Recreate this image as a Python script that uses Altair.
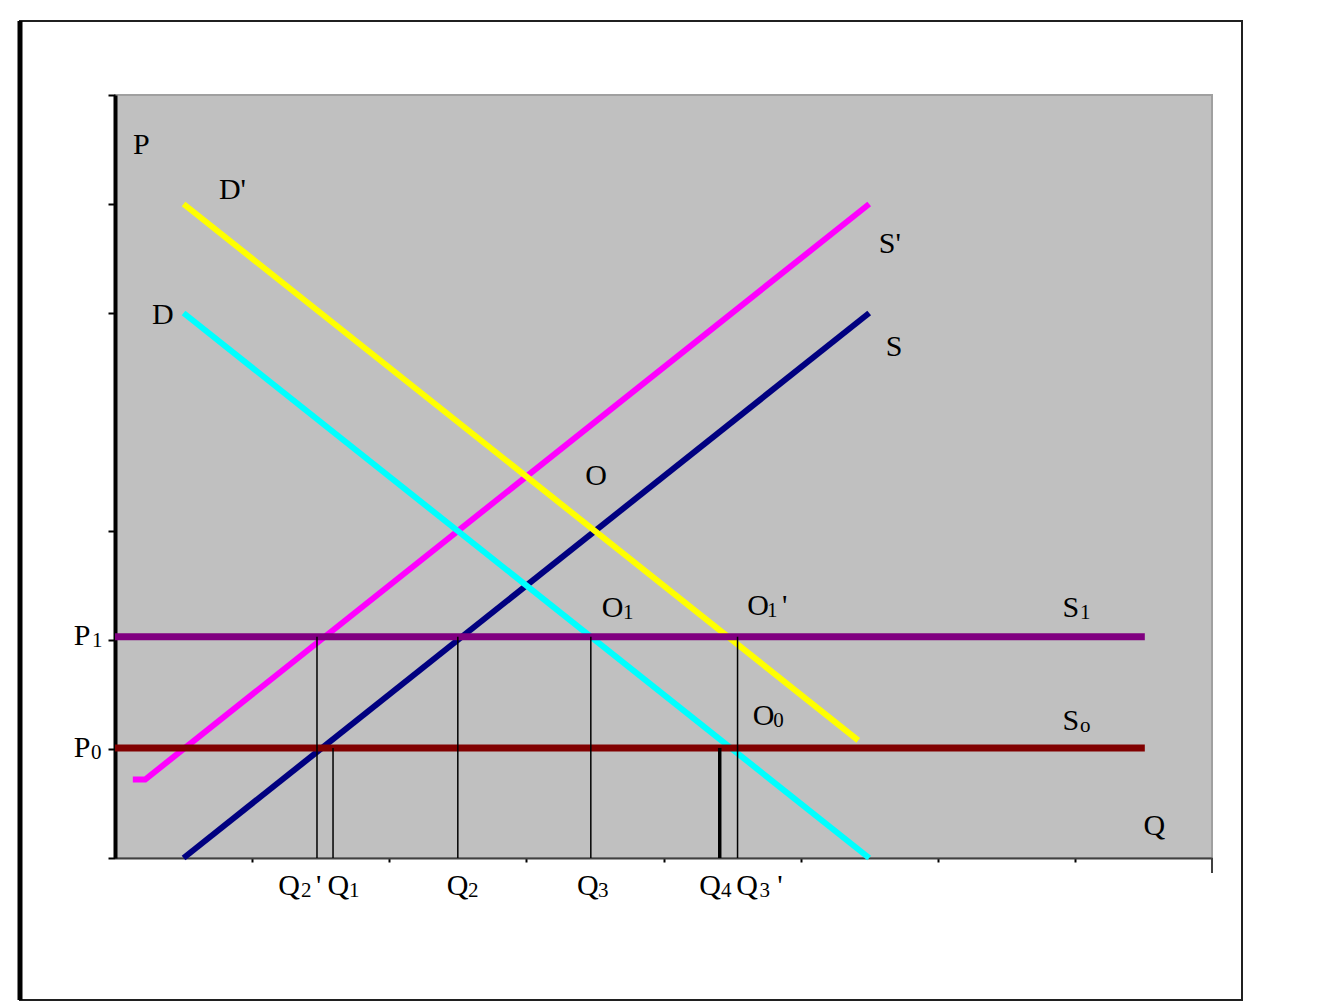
import altair as alt
import pandas as pd

# ---- data (x: quantity units, y: price units) ----
curve_names = ["S'", "S", "D", "D'"]
curve_colors = ["#FF00FF", "#000080", "#00FFFF", "#FFFF00"]
curve_x = [[0.13, 0.22, 5.5], [0.5, 5.5], [0.5, 5.5], [0.5, 5.42]]
curve_y = [[0.72, 0.72, 6.0], [0.0, 5.0], [5.0, 0.0], [6.0, 1.08]]

hline_names = ["S0", "S1"]
hline_colors = ["#800000", "#800080"]
hline_y = [1.01, 2.03]
hline_x_end = [7.51, 7.51]

q_names = ["Q2'", "Q1", "Q2", "Q3", "Q4", "Q3'"]
q_x = [1.473, 1.59, 2.50, 3.47, 4.41, 4.54]
q_top = [2.03, 1.01, 2.03, 2.03, 1.01, 2.03]
q_width = [1.5, 1.5, 1.5, 1.5, 3.5, 1.5]

# main letters
label_text = ["P", "D'", "D", "S'", "S", "O", "O", "O", "'", "O", "S", "S", "Q",
              "P", "P", "Q", "'", "Q", "Q", "Q", "Q", "Q", "'"]
label_x = [0.131, 0.758, 0.27, 5.57, 5.62, 3.43, 3.55, 4.61, 4.864, 4.65, 6.91, 6.91, 7.50,
           -0.30, -0.30, 1.19, 1.466, 1.55, 2.42, 3.37, 4.26, 4.53, 4.83]
label_y = [6.46, 6.05, 4.90, 5.55, 4.61, 3.42, 2.21, 2.23, 2.23, 1.22, 2.21, 1.17, 0.21,
           1.95, 0.93, -0.34, -0.34, -0.34, -0.34, -0.34, -0.34, -0.34, -0.34]

# subscripts
sub_text = ["1", "1", "0", "1", "o", "1", "0", "2", "1", "2", "3", "4", "3"]
sub_x = [3.705, 4.755, 4.80, 7.037, 7.037, -0.168, -0.175, 1.356, 1.706, 2.574, 3.522,
         4.42, 4.70]
sub_y = [2.21, 2.23, 1.22, 2.21, 1.17, 1.95, 0.93, -0.34, -0.34, -0.34, -0.34, -0.34,
         -0.34]

x_ticks = [1, 2, 3, 4, 5, 6, 7]
y_ticks = [0, 1, 2, 3, 5, 6, 7]

FONT = "Liberation Serif"

xs = alt.Scale(domain=[0, 8], nice=False, zero=False)
ys = alt.Scale(domain=[0, 7], nice=False, zero=False)
x_axis = alt.Axis(values=x_ticks, labels=False, title=None, grid=False,
                  domainColor="#404040", domainWidth=2, tickColor="black",
                  tickSize=4, tickWidth=2)
y_axis = alt.Axis(values=y_ticks, labels=False, title=None, grid=False,
                  domainColor="black", domainWidth=4, tickColor="black",
                  tickSize=7, tickWidth=2)

layers = []

# curves
for name, col, cx, cy in zip(curve_names, curve_colors, curve_x, curve_y):
    df = pd.DataFrame({"x": cx, "y": cy, "o": list(range(len(cx)))})
    layers.append(
        alt.Chart(df).mark_line(color=col, strokeWidth=6, strokeCap="butt").encode(
            x=alt.X("x:Q", scale=xs, axis=x_axis),
            y=alt.Y("y:Q", scale=ys, axis=y_axis),
            order="o:Q",
        )
    )

# horizontal supply lines
hdf = pd.DataFrame({"name": hline_names, "y": hline_y, "x0": [0.0] * len(hline_y),
                    "x1": hline_x_end})
layers.append(
    alt.Chart(hdf).mark_rule(strokeWidth=7).encode(
        x=alt.X("x0:Q", scale=xs),
        x2="x1:Q",
        y=alt.Y("y:Q", scale=ys),
        color=alt.Color("name:N", scale=alt.Scale(domain=hline_names, range=hline_colors),
                        legend=None),
    )
)

# vertical quantity lines
qdf = pd.DataFrame({"name": q_names, "x": q_x, "top": q_top, "w": q_width,
                    "bottom": [0.0] * len(q_x)})
layers.append(
    alt.Chart(qdf).mark_rule(color="black").encode(
        x=alt.X("x:Q", scale=xs),
        y=alt.Y("top:Q", scale=ys),
        y2="bottom:Q",
        strokeWidth=alt.StrokeWidth("w:Q", scale=None, legend=None),
    )
)

# labels
ldf = pd.DataFrame({"t": label_text, "x": label_x, "y": label_y})
layers.append(
    alt.Chart(ldf).mark_text(align="left", baseline="alphabetic", font=FONT,
                             fontSize=30, color="black").encode(
        x=alt.X("x:Q", scale=xs),
        y=alt.Y("y:Q", scale=ys),
        text="t:N",
    )
)
sdf = pd.DataFrame({"t": sub_text, "x": sub_x, "y": sub_y})
layers.append(
    alt.Chart(sdf).mark_text(align="left", baseline="alphabetic", font=FONT,
                             fontSize=21, color="black", dy=2).encode(
        x=alt.X("x:Q", scale=xs),
        y=alt.Y("y:Q", scale=ys),
        text="t:N",
    )
)

one = pd.DataFrame({"a": [0]})
# long end tick on the x axis
layers.append(
    alt.Chart(one).mark_rule(color="#404040", strokeWidth=2).encode(
        x=alt.datum(8, scale=xs), y=alt.value(763), y2=alt.value(778)
    )
)
# outer frame
layers.append(
    alt.Chart(one).mark_rect(filled=False, stroke="#202020", strokeWidth=2).encode(
        x=alt.value(-95), x2=alt.value(1127), y=alt.value(-74), y2=alt.value(905)
    )
)
layers.append(
    alt.Chart(one).mark_rule(color="black", strokeWidth=5).encode(
        x=alt.value(-95), y=alt.value(-74), y2=alt.value(905)
    )
)

chart = alt.layer(*layers).properties(
    width=1097,
    height=763,
    padding={"left": 107, "top": 87, "right": 100, "bottom": 144},
    autosize=alt.AutoSizeParams(type="none"),
    background="white",
).configure_view(fill="#C0C0C0", stroke="#A0A0A0", strokeWidth=2)

chart.save("out.html", embed_options={"renderer": "svg", "actions": False})
